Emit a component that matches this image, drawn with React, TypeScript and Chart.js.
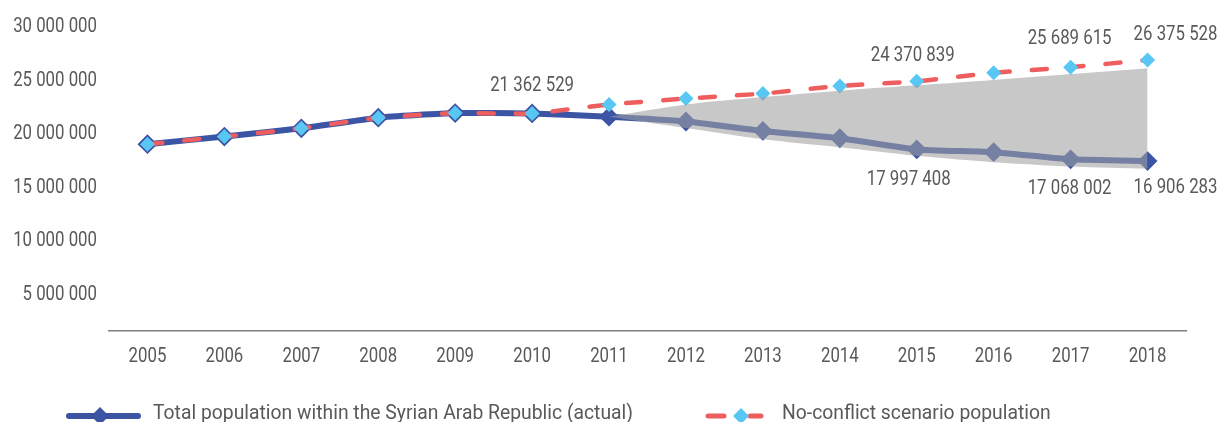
import React, { useEffect, useRef } from 'react';
import { Chart, registerables } from 'chart.js';

Chart.register(...registerables);

const years = ['2005', '2006', '2007', '2008', '2009', '2010', '2011', '2012', '2013', '2014', '2015', '2016', '2017', '2018'];
const actualPopulation = [18490000, 19200000, 19970000, 20970000, 21400000, 21362529, 21060000, 20610000, 19730000, 19040000, 17997408, 17740000, 17068002, 16906283];
const noConflictPopulation = [18490000, 19200000, 19970000, 20970000, 21400000, 21362529, 22200000, 22760000, 23220000, 23940000, 24370839, 25170000, 25689615, 26375528];
const gapUpper = [null, null, null, null, null, null, 21060000, 22200000, 22900000, 23500000, 24000000, 24500000, 25050000, 25600000];
const gapLower = [null, null, null, null, null, null, 21060000, 20000000, 18950000, 18200000, 17400000, 16800000, 16400000, 16200000];
const yTickValues = [5000000, 10000000, 15000000, 20000000, 25000000, 30000000];
const actualLabelYears = ['2010', '2015', '2017', '2018'];
const noConflictLabelYears = ['2015', '2017', '2018'];
const legendLabels = ['Total population within the Syrian Arab Republic (actual)', 'No-conflict scenario population'];

const FONT = "Roboto, 'Noto Sans', sans-serif";
const FONT_SIZE = 21;
const CONDENSE = 0.8;
const LEGEND_CONDENSE = 0.92;
const TEXT = '#595959';
const BLUE = '#3B54A4';
const LIGHT = '#59C7F3';
const RED = '#EF5E5E';

const fmt = (n: number) => String(Math.round(n)).replace(/\B(?=(\d{3})+(?!\d))/g, ' ');

// label offsets (px) relative to the point, keyed by year
const actualOffsets: Record<string, [number, number]> = { '2010': [0, -28], '2015': [-8, 30], '2017': [-1, 29], '2018': [28, 27] };
const ncOffsets: Record<string, [number, number]> = { '2015': [-4, -26], '2017': [-1, -28], '2018': [28, -25] };

function diamond(ctx: CanvasRenderingContext2D, x: number, y: number, r: number, color: string) {
  ctx.beginPath();
  ctx.moveTo(x, y - r);
  ctx.lineTo(x + r, y);
  ctx.lineTo(x, y + r);
  ctx.lineTo(x - r, y);
  ctx.closePath();
  ctx.fillStyle = color;
  ctx.fill();
}

function text(ctx: CanvasRenderingContext2D, s: string, x: number, y: number, align: CanvasTextAlign, baseline: CanvasTextBaseline, condense = CONDENSE) {
  ctx.save();
  ctx.translate(x, y);
  ctx.scale(condense, 1);
  ctx.font = `${FONT_SIZE}px ${FONT}`;
  ctx.fillStyle = TEXT;
  ctx.textAlign = align;
  ctx.textBaseline = baseline;
  ctx.fillText(s, 0, 0);
  ctx.restore();
}

const overlayPlugin = {
  id: 'overlayPlugin',
  afterDraw(chart: any) {
    const ctx: CanvasRenderingContext2D = chart.ctx;
    const xs = chart.scales.x;
    const ys = chart.scales.y;
    ctx.save();

    // axis tick labels
    yTickValues.forEach((v) => {
      text(ctx, fmt(v), xs.left - 12, ys.getPixelForValue(v) + 6, 'right', 'middle');
    });
    years.forEach((yr, i) => {
      text(ctx, yr, xs.getPixelForValue(i), 357, 'center', 'middle');
    });

    // data labels
    actualLabelYears.forEach((yr) => {
      const i = years.indexOf(yr);
      const [dx, dy] = actualOffsets[yr];
      text(ctx, fmt(actualPopulation[i]), xs.getPixelForValue(i) + dx, ys.getPixelForValue(actualPopulation[i]) + dy, 'center', 'middle');
    });
    noConflictLabelYears.forEach((yr) => {
      const i = years.indexOf(yr);
      const [dx, dy] = ncOffsets[yr];
      text(ctx, fmt(noConflictPopulation[i]), xs.getPixelForValue(i) + dx, ys.getPixelForValue(noConflictPopulation[i]) + dy, 'center', 'middle');
    });

    // legend
    const ly = 416;
    ctx.lineCap = 'round';
    ctx.strokeStyle = BLUE;
    ctx.lineWidth = 6;
    ctx.beginPath();
    ctx.moveTo(69, ly);
    ctx.lineTo(138, ly);
    ctx.stroke();
    diamond(ctx, 100, ly, 9, BLUE);

    ctx.strokeStyle = RED;
    ctx.lineWidth = 5;
    ctx.beginPath();
    ctx.moveTo(708, ly);
    ctx.lineTo(724, ly);
    ctx.moveTo(750, ly);
    ctx.lineTo(761, ly);
    ctx.stroke();
    diamond(ctx, 741, ly, 8, LIGHT);

    text(ctx, legendLabels[0], 153, 419, 'left', 'alphabetic', LEGEND_CONDENSE);
    text(ctx, legendLabels[1], 782, 419, 'left', 'alphabetic', LEGEND_CONDENSE);
    ctx.restore();
  },
};

export default function App() {
  const ref = useRef<HTMLCanvasElement>(null);
  useEffect(() => {
    if (!ref.current) return;
    const chart = new Chart(ref.current, {
      type: 'line',
      data: {
        labels: years,
        datasets: [
          {
            label: legendLabels[0],
            data: actualPopulation,
            borderColor: BLUE,
            borderWidth: 6,
            tension: 0.15,
            pointStyle: 'rectRot',
            pointRadius: 8.5,
            pointBackgroundColor: BLUE,
            pointBorderColor: BLUE,
            pointBorderWidth: 2,
            order: 3,
          },
          {
            label: legendLabels[1],
            data: noConflictPopulation,
            borderColor: RED,
            borderWidth: 4.5,
            borderDash: [15, 22],
            borderCapStyle: 'round',
            tension: 0.15,
            pointStyle: 'rectRot',
            pointRadius: 7.5,
            pointBackgroundColor: LIGHT,
            pointBorderWidth: 0,
            order: 2,
          },
          {
            label: 'gapUpper',
            data: gapUpper,
            borderWidth: 0,
            pointRadius: 0,
            tension: 0.3,
            fill: '+1',
            backgroundColor: 'rgba(160,160,160,0.58)',
            order: 0,
          },
          {
            label: 'gapLower',
            data: gapLower,
            borderWidth: 0,
            pointRadius: 0,
            tension: 0.3,
            fill: false,
            order: 1,
          },
        ],
      },
      options: {
        animation: false,
        responsive: false,
        devicePixelRatio: 1,
        layout: { padding: { top: 8, right: 36, left: 0, bottom: 0 } },
        plugins: { legend: { display: false }, tooltip: { enabled: false } },
        scales: {
          x: {
            type: 'category',
            offset: true,
            grid: { display: false, drawTicks: false },
            border: { display: true, color: '#7F7F7F', width: 1.5 },
            ticks: { display: false },
            afterFit: (s: any) => { s.height = 91; },
          },
          y: {
            min: 1000000,
            max: 31000000,
            grid: { display: false, drawTicks: false },
            border: { display: false },
            ticks: { display: false },
            afterBuildTicks: (s: any) => { s.ticks = yTickValues.map((v) => ({ value: v })); },
            afterFit: (s: any) => { s.width = 109; },
          },
        },
      },
      plugins: [overlayPlugin],
    } as any);
    return () => chart.destroy();
  }, []);
  return (
    <div style={{ position: 'fixed', left: 0, top: 0, width: 1222, height: 422, background: '#fff' }}>
      <canvas ref={ref} width={1222} height={422} />
    </div>
  );
}
